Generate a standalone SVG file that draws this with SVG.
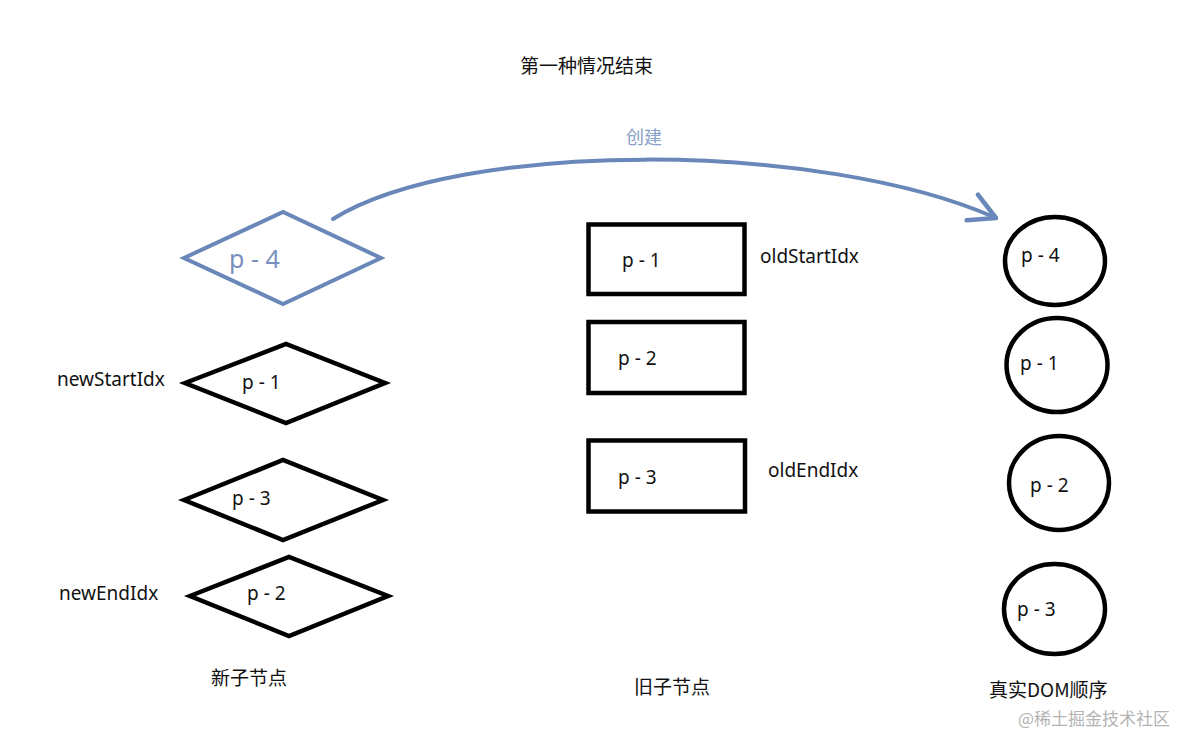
<svg xmlns="http://www.w3.org/2000/svg" width="1199" height="738" viewBox="0 0 1199 738">
  <style>
    .bg { fill: #ffffff; }
    .shape { fill: none; stroke: #000000; stroke-width: 4.5; stroke-linejoin: miter; }
    .blue { fill: none; stroke: #6a87ba; stroke-width: 4; stroke-linejoin: miter; }
    .lbl { font-family: "Noto Sans", "Open Sans", "Noto Sans CJK SC", sans-serif; font-size: 19px; fill: #111111; }
    .cjk { font-family: "Noto Sans CJK SC", "Noto Sans", sans-serif; font-size: 19px; fill: #111111; }
    .bluetxt { font-family: "Noto Sans", "Open Sans", sans-serif; font-size: 25px; fill: #7890bb; }
    .bluecjk { font-family: "Noto Sans CJK SC", sans-serif; font-size: 18px; fill: #86a0c9; }
    .wm { font-family: "Noto Sans CJK SC", sans-serif; font-size: 17px; fill: #b4b4b4; }
  </style>
  <defs>
    <marker id="openArrow" markerUnits="userSpaceOnUse" markerWidth="40" markerHeight="40" refX="30" refY="20" orient="auto" viewBox="0 0 40 40">
      <path d="M4,6 L30,20 L4,34" fill="none" stroke="#6a87ba" stroke-width="4.5" stroke-linecap="round" stroke-linejoin="round"/>
    </marker>
  </defs>
  <rect class="bg" x="0" y="0" width="1199" height="738"/>

  <text class="cjk" x="520" y="73">第一种情况结束</text>

  <g id="connectors">
    <path id="edge-create" class="blue" d="M333,219 C460,140 820,140 996,218" stroke-linecap="round" marker-end="url(#openArrow)"/>
    <text class="bluecjk" x="626" y="144">创建</text>
  </g>

  <g id="new-p4">
    <polygon class="blue" points="184,258 283,212 381,258 283,304"/>
    <text class="bluetxt" x="229" y="268">p - 4</text>
  </g>
  <g id="new-p1">
    <polygon class="shape" points="185,383 286,344 385,383 286,423"/>
    <text class="lbl" x="242" y="389">p - 1</text>
  </g>
  <g id="new-p3">
    <polygon class="shape" points="184,500 283,460 383,500 283,540"/>
    <text class="lbl" x="232" y="505">p - 3</text>
  </g>
  <g id="new-p2">
    <polygon class="shape" points="190,596 289,557 388,596 289,636"/>
    <text class="lbl" x="247" y="600">p - 2</text>
  </g>
  <g id="new-labels">
    <text class="lbl" x="57" y="386">newStartIdx</text>
    <text class="lbl" x="59" y="600">newEndIdx</text>
    <text class="cjk" x="211" y="685">新子节点</text>
  </g>

  <g id="old-p1">
    <rect class="shape" x="588.5" y="224.5" width="156" height="69.5"/>
    <text class="lbl" x="622" y="267">p - 1</text>
  </g>
  <g id="old-p2">
    <rect class="shape" x="588.5" y="322" width="156" height="71"/>
    <text class="lbl" x="618" y="365">p - 2</text>
  </g>
  <g id="old-p3">
    <rect class="shape" x="588.5" y="440.5" width="156.5" height="71"/>
    <text class="lbl" x="618" y="484">p - 3</text>
  </g>
  <g id="old-labels">
    <text class="lbl" x="760" y="263">oldStartIdx</text>
    <text class="lbl" x="768" y="477">oldEndIdx</text>
    <text class="cjk" x="634" y="694">旧子节点</text>
  </g>

  <g id="dom-p4">
    <ellipse class="shape" cx="1055" cy="261" rx="50" ry="44"/>
    <text class="lbl" x="1021" y="262">p - 4</text>
  </g>
  <g id="dom-p1">
    <ellipse class="shape" cx="1057" cy="365" rx="50.5" ry="47"/>
    <text class="lbl" x="1020" y="370">p - 1</text>
  </g>
  <g id="dom-p2">
    <ellipse class="shape" cx="1059" cy="483" rx="50" ry="47"/>
    <text class="lbl" x="1030" y="492">p - 2</text>
  </g>
  <g id="dom-p3">
    <ellipse class="shape" cx="1054.5" cy="609" rx="50.5" ry="45"/>
    <text class="lbl" x="1017" y="616">p - 3</text>
  </g>
  <g id="dom-labels">
    <text class="cjk" x="989" y="697">真实DOM顺序</text>
    <text class="wm" x="1018" y="725">@稀土掘金技术社区</text>
  </g>
</svg>
